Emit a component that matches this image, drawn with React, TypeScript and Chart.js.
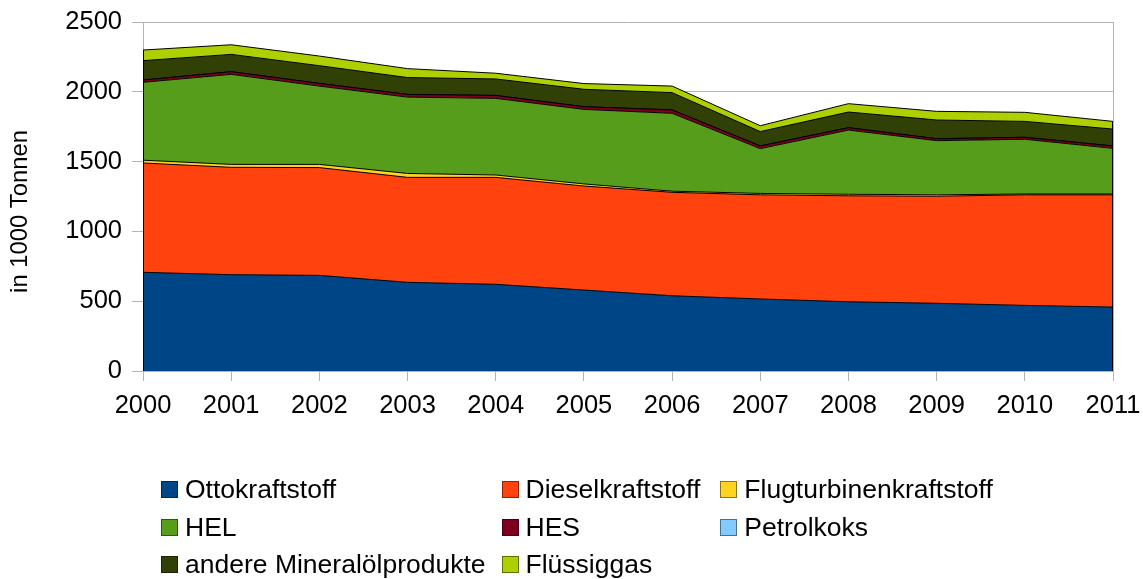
import React, { useEffect, useRef } from "react";
import { Chart, registerables } from "chart.js";

Chart.register(...registerables);

const years = ["2000", "2001", "2002", "2003", "2004", "2005", "2006", "2007", "2008", "2009", "2010", "2011"];

const ottokraftstoff = [707, 690, 685, 635, 621, 580, 539, 516, 496, 485, 470, 458];
const dieselkraftstoff = [783, 769, 772, 752, 766, 745, 741, 746, 759, 767, 792, 804];
const flugturbinenkraftstoff = [20, 21, 23, 28, 17, 15, 8, 10, 11, 10, 6, 6];
const hel = [558, 645, 561, 547, 549, 534, 558, 321, 460, 388, 392, 327];
const hes = [16, 19, 19, 19, 21, 19, 24, 19, 17, 14, 14, 17];
const petrolkoks = [0, 0, 0, 0, 0, 0, 0, 0, 0, 0, 0, 0];
const andereMineraloelprodukte = [139, 124, 127, 121, 118, 125, 124, 103, 112, 134, 114, 121];
const fluessiggas = [76, 69, 69, 64, 41, 41, 47, 42, 60, 62, 65, 55];

const seriesNames = [
  "Ottokraftstoff",
  "Dieselkraftstoff",
  "Flugturbinenkraftstoff",
  "HEL",
  "HES",
  "Petrolkoks",
  "andere Mineralölprodukte",
  "Flüssiggas",
];
const seriesValues = [
  ottokraftstoff,
  dieselkraftstoff,
  flugturbinenkraftstoff,
  hel,
  hes,
  petrolkoks,
  andereMineraloelprodukte,
  fluessiggas,
];
const seriesColors = ["#004586", "#ff420e", "#ffd320", "#579d1c", "#7e0021", "#83caff", "#314004", "#aecf00"];

const yTicks = [0, 500, 1000, 1500, 2000, 2500];
const yTitle = "in 1000 Tonnen";

const FONT = "'Liberation Sans', Arial, sans-serif";

export default function App() {
  const canvasRef = useRef<HTMLCanvasElement | null>(null);

  useEffect(() => {
    const canvas = canvasRef.current;
    if (!canvas) return;

    const edgePlugin = {
      id: "edges",
      afterDatasetsDraw(chart: any) {
        const { ctx, scales } = chart;
        const x = scales.x;
        const y = scales.y;
        const last = years.length - 1;
        const totalAt = (i: number) => seriesValues.reduce((s, arr) => s + arr[i], 0);
        ctx.save();
        ctx.strokeStyle = "#000";
        ctx.lineWidth = 1;
        [0, last].forEach((i) => {
          const px = Math.round(x.getPixelForValue(i)) + (i === 0 ? 0.5 : -0.5);
          ctx.beginPath();
          ctx.moveTo(px, y.getPixelForValue(0));
          ctx.lineTo(px, y.getPixelForValue(totalAt(i)));
          ctx.stroke();
        });
        ctx.restore();
      },
      afterDraw(chart: any) {
        const { ctx, scales } = chart;
        const y = scales.y;
        ctx.save();
        ctx.translate(20, (y.top + y.bottom) / 2 + 15);
        ctx.rotate(-Math.PI / 2);
        ctx.fillStyle = "#000";
        ctx.font = `23.8px ${FONT}`;
        ctx.textAlign = "center";
        ctx.textBaseline = "middle";
        ctx.fillText(yTitle, 0, 0);
        ctx.restore();
      },
    };

    const chart = new Chart(canvas, {
      type: "line",
      data: {
        labels: years,
        datasets: seriesNames.map((name, i) => ({
          label: name,
          data: seriesValues[i],
          backgroundColor: seriesColors[i],
          borderColor: "#000",
          borderWidth: 1,
          pointRadius: 0,
          pointHoverRadius: 0,
          tension: 0,
          fill: i === 0 ? "origin" : "-1",
        })),
      },
      options: {
        responsive: false,
        animation: false,
        events: [],
        layout: { padding: { left: 0, top: 22, right: 30, bottom: 148 } },
        plugins: {
          legend: { display: false },
          tooltip: { enabled: false },
          title: { display: false },
        },
        scales: {
          x: {
            offset: false,
            afterFit: (s: any) => {
              s.height = 60;
              s.paddingLeft = 0;
              s.paddingRight = 0;
            },
            grid: {
              drawOnChartArea: true,
              color: (ctx: any) => (ctx.index === years.length - 1 ? "#b3b3b3" : "rgba(0,0,0,0)"),
              tickColor: "#b3b3b3",
              tickLength: 10,
            },
            border: { color: "#b3b3b3" },
            ticks: {
              autoSkip: false,
              maxRotation: 0,
              color: "#000",
              padding: 10,
              font: { family: FONT, size: 25.5 },
            },
          },
          y: {
            stacked: true,
            min: 0,
            max: 2500,
            afterFit: (s: any) => {
              s.width = 143;
              s.paddingTop = 0;
              s.paddingBottom = 0;
            },
            afterBuildTicks: (s: any) => {
              s.ticks = yTicks.map((v) => ({ value: v }));
            },
            grid: { color: "#b3b3b3", tickLength: 11 },
            border: { color: "#b3b3b3" },
            ticks: {
              color: "#000",
              padding: 10,
              font: { family: FONT, size: 25.5 },
              callback: (v: any) => String(v),
            },
          },
        },
      },
      plugins: [edgePlugin],
    });

    return () => chart.destroy();
  }, []);

  return (
    <div style={{ position: "absolute", left: 0, top: 0, width: 1143, height: 579, background: "#fff" }}>
      <canvas ref={canvasRef} width={1143} height={579} style={{ display: "block" }} />
      <div
        style={{
          position: "absolute",
          left: 161,
          top: 471,
          display: "grid",
          gridTemplateColumns: "auto auto auto",
          gridAutoRows: "37.5px",
          columnGap: 16,
          fontFamily: FONT,
          fontSize: 26.5,
          color: "#000",
        }}
      >
        {seriesNames.map((name, i) => (
          <div
            key={name}
            style={{
              display: "flex",
              alignItems: "center",
              whiteSpace: "nowrap",
              paddingLeft: i % 3 === 2 ? 4 : 0,
            }}
          >
            <span
              style={{
                display: "inline-block",
                width: 15,
                height: 15,
                background: seriesColors[i],
                border: "1px solid rgba(0,0,0,0.45)",
                marginRight: 7,
                flex: "none",
              }}
            />
            <span style={{ lineHeight: "37.5px" }}>{name}</span>
          </div>
        ))}
      </div>
    </div>
  );
}
